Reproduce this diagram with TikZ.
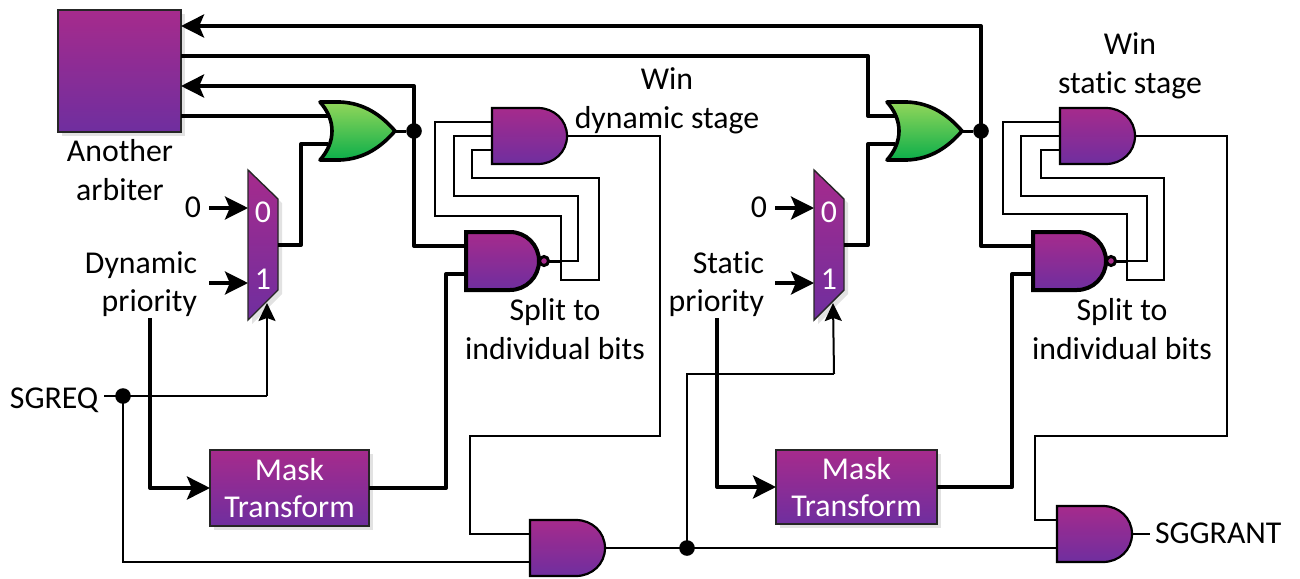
\documentclass[tikz,border=0pt]{standalone}
\usepackage{fontspec}
\setmainfont[Ligatures=NoCommon]{Carlito}
\usetikzlibrary{arrows.meta,shadows,calc}
\definecolor{gtop}{HTML}{A62B8C}
\definecolor{gbot}{HTML}{6F2E9F}
\definecolor{ortop}{HTML}{92D65A}
\definecolor{orbot}{HTML}{0BAE4A}
\definecolor{shad}{HTML}{E2E2E2}
\tikzset{
  x=0.5pt,y=-0.5pt,
  purplefill/.style={top color=gtop,bottom color=gbot},
  thinw/.style={line width=1pt,line join=miter},
  thickw/.style={line width=2pt,line join=round},
  bigtip/.style={-{Stealth[length=11.5pt,width=11.5pt,inset=2.4pt]}},
  smalltip/.style={-{Stealth[length=9pt,width=8.5pt,inset=1.5pt]}},
  lbl/.style={inner sep=0pt,outer sep=0pt,align=center,font=\fontsize{15.9}{19.3}\selectfont,text=black},
  wlbl/.style={lbl,text=white},
  jdot/.style={circle,fill=black,inner sep=0pt,outer sep=0pt,minimum size=7.8pt},
  blockbox/.style={draw=black!85,line width=0.7pt,purplefill,inner sep=0pt,outer sep=0pt,
    drop shadow={shadow xshift=2pt,shadow yshift=-2pt,fill=shad,opacity=1}},
  andgate/.pic={
    \path[draw=black,line width=1.1pt,purplefill] (0,0) -- (46,0) .. controls (62,0) and (75,12) .. (75,28) .. controls (75,44) and (62,56) .. (46,56) -- (0,56) -- cycle;
    \coordinate (-a) at (0,14); \coordinate (-b) at (0,28); \coordinate (-c) at (0,42); \coordinate (-out) at (75,28);
  },
  nandgate/.pic={
    \path[draw=black,line width=2pt,purplefill] (0,0) -- (44,0) .. controls (60,0) and (73,13) .. (73,29) .. controls (73,45) and (60,58) .. (44,58) -- (0,58) -- cycle;
    \path[draw=black,line width=1.5pt,fill=gtop] (78,29) circle[radius=4.5];
    \coordinate (-a) at (0,14); \coordinate (-c) at (0,42); \coordinate (-out) at (83,29);
  },
  orgate/.pic={
    \path[draw=black,line width=1.8pt,line join=round,top color=ortop,bottom color=orbot] (0,0) -- (20,0) .. controls (45,1) and (62,14) .. (75,29) .. controls (62,44) and (45,57) .. (20,58) -- (0,58) .. controls (16,40) and (16,18) .. (0,0) -- cycle;
    \coordinate (-a) at (8,14); \coordinate (-c) at (8,42); \coordinate (-out) at (75,29);
  },
  muxgate/.pic={
    \fill[shad] (4,4) -- (34,33) -- (34,124) -- (4,154) -- cycle;
    \path[draw=black!85,line width=0.7pt,purplefill] (0,0) -- (30,29) -- (30,120) -- (0,150) -- cycle;
    \coordinate (-i0) at (0,38); \coordinate (-i1) at (0,113); \coordinate (-sel) at (19,133); \coordinate (-out) at (30,75);
    \node[wlbl] (-z) at (15,42) {0};
    \node[wlbl] (-o) at (15,109) {1};
  },
}
\begin{document}
\begin{tikzpicture}
\useasboundingbox (0,0) rectangle (1300,578);

% blocks with shadows
\node[blockbox,minimum width=61.5pt,minimum height=61pt] (arb) at (119.5,71) {};
\node[blockbox,minimum width=79.5pt,minimum height=38pt,wlbl] (mask1) at (289.5,488) {Mask\\[-0.6pt]Transform};
\node[blockbox,minimum width=80.5pt,minimum height=37pt,wlbl] (mask2) at (856.5,487) {Mask\\[-0.6pt]Transform};

% gates
\pic (mux1) at (248,170) {muxgate};
\pic (mux2) at (814,170) {muxgate};
\pic (or1) at (320,102) {orgate};
\pic (or2) at (887,102) {orgate};
\pic (nand1) at (466,232) {nandgate};
\pic (nand2) at (1033,232) {nandgate};
\pic (and1) at (492,108) {andgate};
\pic (and2) at (1060,108) {andgate};
\pic (and3) at (530,520) {andgate};
\pic (and4) at (1057,506) {andgate};

% junctions
\node[jdot] (j1) at (414,131) {};
\node[jdot] (j2) at (981,131) {};
\node[jdot] (j3) at (123,396) {};
\node[jdot] (j4) at (687,548) {};

% labels
\node[lbl] (anotherlbl) at (120,170) {Another\\arbiter};
\node[lbl,anchor=base] (zero1) at (193,217) {0};
\node[lbl,anchor=base] (zero2) at (759,217) {0};
\node[lbl,align=right,anchor=east] (dynlbl) at (197,284) {Dynamic\\priority};
\node[lbl,align=right,anchor=east] (statlbl) at (764,284) {Static\\priority};
\node[lbl] (winone) at (667,101) {Win\\dynamic stage};
\node[lbl] (wintwo) at (1130,66) {Win\\static stage};
\node[lbl] (split1) at (555,329) {Split to\\individual bits};
\node[lbl] (split2) at (1122,329) {Split to\\individual bits};
\node[lbl,anchor=base west] (sgreq) at (10,408) {SGREQ};
\node[lbl,anchor=base west] (sggrant) at (1155,543) {SGGRANT};

% free ends
\coordinate (z1) at (209,208);
\coordinate (z2) at (775,208);
\coordinate (p1) at (209,283);
\coordinate (p2) at (775,283);
\coordinate (qend) at (104,396);
\coordinate (gend) at (1150,534);

% thick feedback and output wires
\draw[thickw,bigtip] (j2.center) -- (981,26) -- (arb.east |- 981,26);
\draw[thickw] (arb.east |- 0,56) -- (868,56) -- (868,116) -- (or2-a);
\draw[thickw,bigtip] (j1.center) -- (414,86) -- (arb.east |- 0,86);
\draw[thickw] (arb.east |- 0,116) -- (or1-a);
\draw[line width=1.5pt] (or1-out) -- (j1);
\draw[line width=1.5pt] (or2-out) -- (j2);
\draw[thickw] (mux1-out) -- (301,245) -- (301,144) -- (or1-c);
\draw[thickw] (mux2-out) -- (868,245) -- (868,144) -- (or2-c);
\draw[thickw] (j1.center) |- (nand1-a);
\draw[thickw] (j2.center) |- (nand2-a);
\draw[thickw] (mask1.east) -- (446,488) |- (nand1-c);
\draw[thickw] (mask2.east) -- (1012,487) |- (nand2-c);
\draw[thickw,bigtip] (150,318) |- (mask1.west);
\draw[thickw,bigtip] (717,318) |- (mask2.west);

% mux data inputs
\draw[line width=1.6pt,bigtip] (z1) -- (mux1-i0);
\draw[line width=1.6pt,bigtip] (p1) -- (mux1-i1);
\draw[line width=1.6pt,bigtip] (z2) -- (mux2-i0);
\draw[line width=1.6pt,bigtip] (p2) -- (mux2-i1);

% split wires
\draw[line width=1.5pt] (nand1-out) -- (561,261);
\draw[line width=1.5pt] (nand2-out) -- (1127,261);
\draw[thinw] (561,261) -- (578,261) -- (578,196) -- (454,196) -- (454,136) -- (and1-b);
\draw[thinw] (561,261) -- (561,280) -- (599,280) -- (599,178) -- (472,178) -- (472,150) -- (and1-c);
\draw[thinw] (561,261) -- (561,216) -- (435,216) -- (435,122) -- (and1-a);
\draw[thinw] (1127,261) -- (1147,261) -- (1147,196) -- (1021,196) -- (1021,136) -- (and2-b);
\draw[thinw] (1127,261) -- (1127,280) -- (1164,280) -- (1164,178) -- (1041,178) -- (1041,150) -- (and2-c);
\draw[thinw] (1127,261) -- (1127,214) -- (1003,214) -- (1003,122) -- (and2-a);

% grant path
\draw[thinw] (and1-out) -- (660,136) -- (660,436) -- (470,436) -- (470,534) -- (and3-a);
\draw[thinw] (and2-out) -- (1227,136) -- (1227,436) -- (1035,436) -- (1035,520) -- (and4-a);
\draw[thinw] (and3-out) -- (and4-c);
\draw[thinw] (and4-out) -- (gend);
\draw[thinw] (j3.center) |- (and3-c);
\draw[thinw] (qend) -- (267,396);
\draw[thinw,smalltip] (267,396) -- (mux1-sel);
\draw[thinw] (j4.center) -- (687,374) -- (834,374);
\draw[thinw,smalltip] (834,374) -- (mux2-sel);
\end{tikzpicture}
\end{document}
